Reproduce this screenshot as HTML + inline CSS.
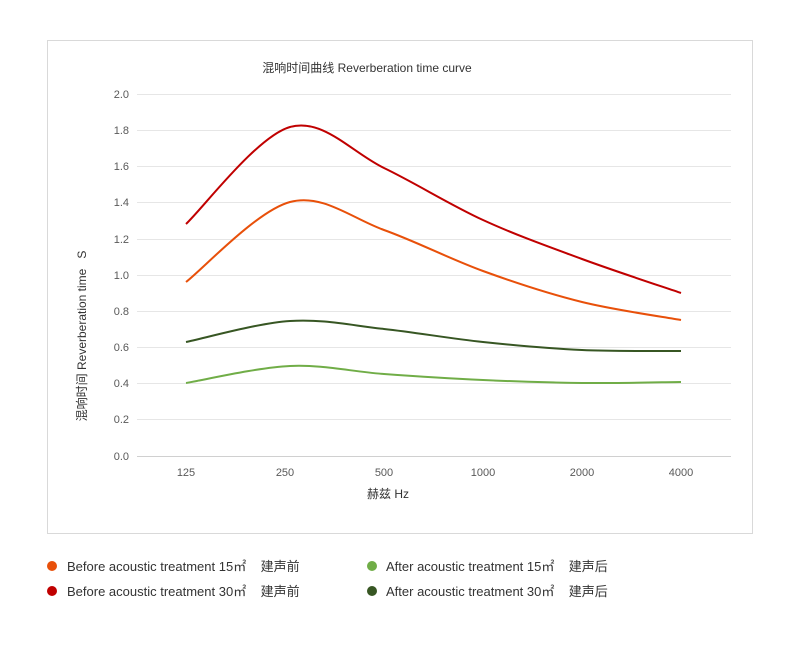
<!DOCTYPE html>
<html><head><meta charset="utf-8"><style>
body{margin:0;width:800px;height:650px;background:#fff;font-family:"Liberation Sans","Noto Sans CJK SC",sans-serif;overflow:hidden}
text{white-space:pre}
</style></head><body>
<svg width="800" height="650" xmlns="http://www.w3.org/2000/svg" style="position:absolute;left:0;top:0">
<rect x="47.5" y="40.5" width="705" height="493" fill="#fff" stroke="#d9d9d9"/>
<g stroke="#e6e6e6" stroke-width="1">
<line x1="137" x2="731" y1="94.5" y2="94.5"/><line x1="137" x2="731" y1="130.5" y2="130.5"/>
<line x1="137" x2="731" y1="166.5" y2="166.5"/><line x1="137" x2="731" y1="202.5" y2="202.5"/>
<line x1="137" x2="731" y1="239.5" y2="239.5"/><line x1="137" x2="731" y1="275.5" y2="275.5"/>
<line x1="137" x2="731" y1="311.5" y2="311.5"/><line x1="137" x2="731" y1="347.5" y2="347.5"/>
<line x1="137" x2="731" y1="383.5" y2="383.5"/><line x1="137" x2="731" y1="419.5" y2="419.5"/>
</g>
<line x1="137" x2="731" y1="456.5" y2="456.5" stroke="#d0d0d0"/>
<g font-size="11" fill="#595959" text-anchor="end">
<text x="129" y="98">2.0</text><text x="129" y="134">1.8</text><text x="129" y="170">1.6</text>
<text x="129" y="206">1.4</text><text x="129" y="243">1.2</text><text x="129" y="279">1.0</text>
<text x="129" y="315">0.8</text><text x="129" y="351">0.6</text><text x="129" y="387">0.4</text>
<text x="129" y="423">0.2</text><text x="129" y="460">0.0</text>
</g>
<g font-size="11" fill="#595959" text-anchor="middle">
<text x="186" y="476">125</text><text x="285" y="476">250</text><text x="384" y="476">500</text>
<text x="483" y="476">1000</text><text x="582" y="476">2000</text><text x="681" y="476">4000</text>
</g>
<text x="367" y="72" font-size="12" fill="#333" text-anchor="middle">混响时间曲线 Reverberation time curve</text>
<text x="388" y="498" font-size="12" fill="#333" text-anchor="middle">赫兹 Hz</text>
<text transform="translate(86,336) rotate(-90)" font-size="12" fill="#333" text-anchor="middle">混响时间 Reverberation time   S</text>
<g fill="none" stroke-width="2">
<path id="p1" stroke="#c00000"/><path id="p2" stroke="#e8500a"/><path id="p3" stroke="#375623"/><path id="p4" stroke="#70ad47"/>
</g>
<g font-size="13" fill="#333">
<circle cx="52" cy="566" r="5" fill="#e8500a"/><text x="67" y="571">Before acoustic treatment 15㎡    建声前</text>
<circle cx="52" cy="591" r="5" fill="#c00000"/><text x="67" y="596">Before acoustic treatment 30㎡    建声前</text>
<circle cx="372" cy="566" r="5" fill="#70ad47"/><text x="386" y="571">After acoustic treatment 15㎡    建声后</text>
<circle cx="372" cy="591" r="5" fill="#375623"/><text x="386" y="596">After acoustic treatment 30㎡    建声后</text>
</g>
</svg>
<script>
function cr(pts){let d="M"+pts[0][0]+","+pts[0][1];for(let i=0;i<pts.length-1;i++){const p0=pts[i-1]||pts[i],p1=pts[i],p2=pts[i+1],p3=pts[i+2]||p2;const t=6;d+=" C"+(p1[0]+(p2[0]-p0[0])/t)+","+(p1[1]+(p2[1]-p0[1])/t)+" "+(p2[0]-(p3[0]-p1[0])/t)+","+(p2[1]-(p3[1]-p1[1])/t)+" "+p2[0]+","+p2[1];}return d;}
const xs=[186,290,384,483,582,681];
const s={p1:[224,127,168,220,259,293],p2:[282,202,230,271,302,320],p3:[342,321,329,342,350,351],p4:[383,366,374,380,383,382]};
for(const k in s){document.getElementById(k).setAttribute("d",cr(xs.map((x,i)=>[x,s[k][i]])));}
</script>
</body></html>
